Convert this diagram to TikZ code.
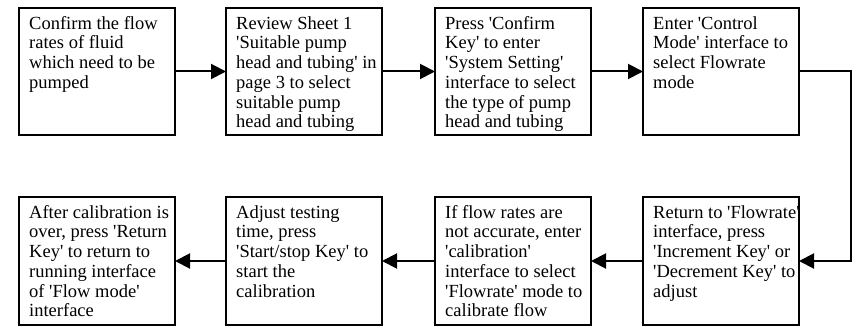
\documentclass[tikz,border=0pt]{standalone}
\usepackage{fontspec}
\setmainfont{Liberation Serif}[Ligatures=TeXOff]
\usetikzlibrary{arrows.meta}
\begin{document}
\begin{tikzpicture}[x=1pt,y=-1pt,
  stepbox/.style={draw=black,line width=2pt,minimum width=156pt,inner sep=0pt,outer sep=0pt},
  toprow/.style={stepbox,minimum height=127pt},
  botrow/.style={stepbox,minimum height=128pt},
  txt/.style={anchor=north west,inner sep=0pt,align=left,font=\fontsize{18.5}{19.7}\selectfont},
  arr/.style={line width=2pt,-{Triangle[length=15pt,width=15pt]}}]
\useasboundingbox (0,0) rectangle (852,326);
% top row
\node[toprow] (b1) at (97,71.5) {};
\node[toprow] (b2) at (304,71.5) {};
\node[toprow] (b3) at (513,71.5) {};
\node[toprow] (b4) at (721,71.5) {};
% bottom row
\node[botrow] (b5) at (721,261) {};
\node[botrow] (b6) at (513,261) {};
\node[botrow] (b7) at (304,261) {};
\node[botrow] (b8) at (97,261) {};
% texts
\newcommand\fs{\rule{0pt}{14pt}}
\node[txt] (t1) at ([xshift=10pt,yshift=-7pt]b1.north west) {\fs Confirm the flow\\rates of fluid\\which need to be\\pumped};
\node[txt] (t2) at ([xshift=10pt,yshift=-7pt]b2.north west) {\fs Review Sheet 1\\'Suitable pump\\head and tubing' in\\page 3 to select\\suitable pump\\head and tubing};
\node[txt] (t3) at ([xshift=10pt,yshift=-7pt]b3.north west) {\fs Press 'Confirm\\Key' to enter\\'System Setting'\\interface to select\\the type of pump\\head and tubing};
\node[txt] (t4) at ([xshift=10pt,yshift=-7pt]b4.north west) {\fs Enter 'Control\\Mode' interface to\\select Flowrate\\mode};
\node[txt] (t5) at ([xshift=10pt,yshift=-7pt]b5.north west) {\fs Return to 'Flowrate'\\interface, press\\'Increment Key' or\\'Decrement Key' to\\adjust};
\node[txt] (t6) at ([xshift=10pt,yshift=-7pt]b6.north west) {\fs If flow rates are\\not accurate, enter\\'calibration'\\interface to select\\'Flowrate' mode to\\calibrate flow};
\node[txt] (t7) at ([xshift=10pt,yshift=-7pt]b7.north west) {\fs Adjust testing\\time, press\\'Start/stop Key' to\\start the\\calibration};
\node[txt] (t8) at ([xshift=10pt,yshift=-7pt]b8.north west) {\fs After calibration is\\over, press 'Return\\Key' to return to\\running interface\\of 'Flow mode'\\interface};
% connectors
\draw[arr] (b1.east) -- (b2.west);
\draw[arr] (b2.east) -- (b3.west);
\draw[arr] (b3.east) -- (b4.west);
\coordinate (turn) at (851,71.5);
\draw[arr] (b4.east) -- (turn) |- (b5.east);
\draw[arr] (b5.west) -- (b6.east);
\draw[arr] (b6.west) -- (b7.east);
\draw[arr] (b7.west) -- (b8.east);
\end{tikzpicture}
\end{document}
